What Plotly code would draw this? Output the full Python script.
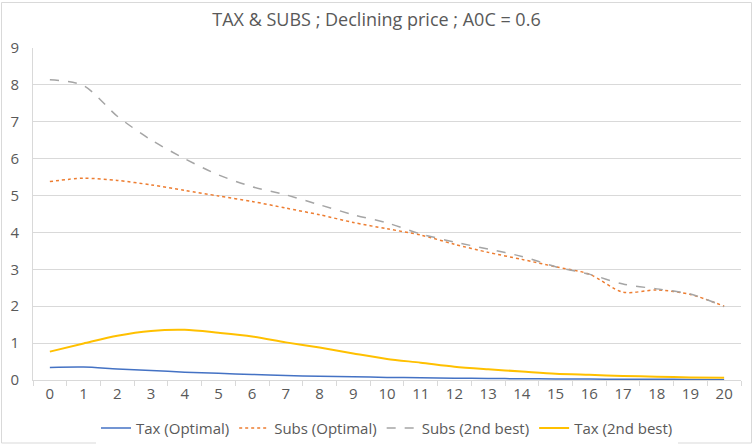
import plotly.graph_objects as go

periods = [str(i) for i in range(21)]

tax_optimal = [0.34, 0.35, 0.30, 0.26, 0.21, 0.18, 0.15, 0.12, 0.10, 0.09, 0.07,
               0.06, 0.05, 0.04, 0.035, 0.03, 0.025, 0.02, 0.02, 0.015, 0.01]
subs_optimal = [5.38, 5.47, 5.41, 5.29, 5.14, 4.99, 4.84, 4.66, 4.48, 4.27, 4.10,
                3.93, 3.68, 3.46, 3.27, 3.07, 2.87, 2.38, 2.44, 2.32, 2.00]
subs_2nd = [8.14, 7.98, 7.15, 6.51, 6.00, 5.56, 5.24, 5.02, 4.75, 4.48, 4.26,
            3.96, 3.74, 3.55, 3.35, 3.07, 2.87, 2.60, 2.47, 2.33, 1.99]
tax_2nd = [0.77, 0.99, 1.20, 1.33, 1.36, 1.28, 1.18, 1.02, 0.88, 0.72, 0.57,
           0.47, 0.36, 0.29, 0.23, 0.17, 0.14, 0.11, 0.09, 0.07, 0.06]

y_ticks = list(range(10))

FONT = "Open Sans"
TXT = "#595959"

fig = go.Figure()
fig.add_trace(go.Scatter(x=periods, y=tax_optimal, name="Tax (Optimal)", mode="lines",
                         line=dict(color="#4472C4", width=1.5, shape="spline", smoothing=0.8)))
fig.add_trace(go.Scatter(x=periods, y=subs_optimal, name="Subs (Optimal)", mode="lines",
                         line=dict(color="#ED7D31", width=1.5, dash="dot", shape="spline", smoothing=0.8)))
fig.add_trace(go.Scatter(x=periods, y=subs_2nd, name="Subs (2nd best)", mode="lines",
                         line=dict(color="#A5A5A5", width=1.5, dash="dash", shape="spline", smoothing=0.8)))
fig.add_trace(go.Scatter(x=periods, y=tax_2nd, name="Tax (2nd best)", mode="lines",
                         line=dict(color="#FFC000", width=2, shape="spline", smoothing=0.8)))

fig.update_layout(
    width=753, height=444,
    margin=dict(l=33, r=12, t=48, b=64, autoexpand=False),
    paper_bgcolor="white", plot_bgcolor="white",
    font=dict(family=FONT, size=14, color=TXT),
    title=dict(text="TAX & SUBS ; Declining price ; A0C = 0.6", x=0.5, xanchor="center",
               y=0.955, yanchor="middle", font=dict(family=FONT, size=18, color=TXT)),
    legend=dict(orientation="h", x=0.5, xanchor="center", y=-0.145, yanchor="middle",
                font=dict(family=FONT, size=15, color=TXT), itemwidth=30, tracegroupgap=0),
    xaxis=dict(type="category", categoryorder="array", categoryarray=periods,
               showgrid=False, showline=True, linecolor="#d9d9d9", linewidth=1,
               ticks="outside", tickson="boundaries", ticklen=5, tickcolor="#d9d9d9",
               tickfont=dict(family=FONT, size=15, color=TXT), range=[-0.5, 20.5]),
    yaxis=dict(range=[0, 9], tickvals=y_ticks, showgrid=True, gridcolor="#d9d9d9",
               showline=True, linecolor="#d9d9d9", linewidth=1, zeroline=False,
               ticks="", tickfont=dict(family=FONT, size=15, color=TXT), ticklabelstandoff=10),
    shapes=[dict(type="rect", xref="paper", yref="paper",
                 x0=(1.5 - 33) / 708, x1=(751.5 - 33) / 708,
                 y0=(380 - 443) / 332, y1=(380 - 2.5) / 332,
                 line=dict(color="#d9d9d9", width=1), fillcolor="rgba(0,0,0,0)", layer="above")],
)

fig.write_html("out.html", config={"displayModeBar": False},
               post_script="document.body.style.margin='0';document.body.style.overflow='hidden';")
